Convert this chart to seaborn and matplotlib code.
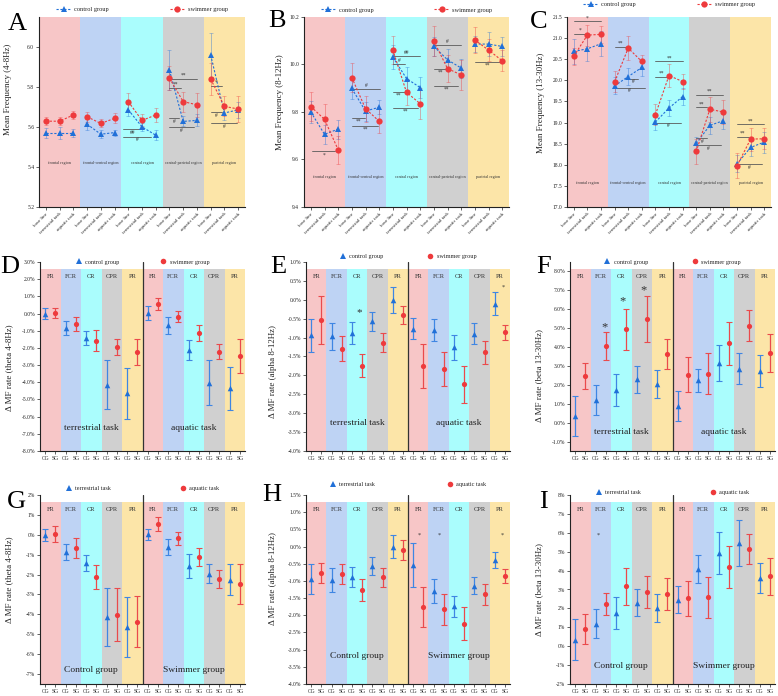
import matplotlib as mpl

mpl.use('Agg')
import matplotlib.pyplot as plt
import matplotlib.ticker as mticker
from matplotlib.lines import Line2D
import seaborn as sns
import numpy as np
import pandas as pd

sns.set_style('ticks')
plt.rcParams['font.family'] = ['Liberation Serif', 'DejaVu Serif']
plt.rcParams['axes.unicode_minus'] = False

BLUE = '#2170D8'
RED = '#EE3A3C'
BAND_COLORS = ['#F7C6C7', '#BED3F4', '#AAFDFD', '#D0D0D0', '#FCE5A8']

# ---------------- top row: mean frequency ----------------
regions = ['frontal region', 'frontal-central region', 'central region',
           'central-parietal region', 'parietal region']
conditions = ['base line', 'terrestrial task', 'aquatic task']

A_control = [5.572, 5.572, 5.572, 5.614, 5.564, 5.572, 5.686, 5.601, 5.559,
             5.884, 5.628, 5.633, 5.960, 5.670, 5.686]
A_control_err = [0.025, 0.03, 0.02, 0.03, 0.02, 0.015, 0.03, 0.02, 0.025,
                 0.10, 0.025, 0.03, 0.11, 0.035, 0.04]
A_swimmer = [5.629, 5.629, 5.660, 5.651, 5.618, 5.643, 5.727, 5.633, 5.660,
             5.844, 5.727, 5.711, 5.840, 5.703, 5.690]
A_swimmer_err = [0.02, 0.02, 0.02, 0.025, 0.02, 0.025, 0.045, 0.03, 0.035,
                 0.06, 0.05, 0.06, 0.08, 0.05, 0.065]

B_control = [9.800, 9.706, 9.728, 9.899, 9.804, 9.820, 10.031, 9.941, 9.903,
             10.076, 10.020, 9.985, 10.086, 10.086, 10.076]
B_control_err = [0.045, 0.04, 0.04, 0.045, 0.04, 0.03, 0.05, 0.05, 0.045,
                 0.04, 0.045, 0.04, 0.035, 0.05, 0.04]
B_swimmer = [9.823, 9.769, 9.641, 9.945, 9.814, 9.761, 10.061, 9.883, 9.835,
             10.099, 9.983, 9.956, 10.103, 10.061, 10.016]
B_swimmer_err = [0.06, 0.065, 0.06, 0.06, 0.055, 0.05, 0.06, 0.055, 0.065,
                 0.065, 0.055, 0.065, 0.055, 0.045, 0.045]

C_control = [20.684, 20.748, 20.866, 19.868, 20.090, 20.304, 19.012, 19.345, 19.615,
             18.505, 18.933, 19.044, 18.022, 18.410, 18.537]
C_control_err = [0.3, 0.3, 0.3, 0.2, 0.2, 0.2, 0.2, 0.2, 0.2,
                 0.15, 0.2, 0.2, 0.2, 0.2, 0.25]
C_swimmer = [20.573, 21.072, 21.088, 19.963, 20.763, 20.447, 19.187, 20.114, 19.971,
             18.315, 19.314, 19.250, 17.975, 18.608, 18.616]
C_swimmer_err = [0.2, 0.25, 0.2, 0.25, 0.28, 0.15, 0.25, 0.27, 0.18,
                 0.3, 0.3, 0.28, 0.3, 0.27, 0.25]

# significance bars: (x start, x end, y, label, +1 text above / -1 below)
A_sigs = [(5.65, 6.93, 5.590, '##', -1), (5.65, 7.66, 5.552, '#', -1),
          (8.99, 9.83, 5.797, '**', 1), (8.99, 11.04, 5.842, '**', 1),
          (8.99, 9.71, 5.646, '#', -1), (8.99, 10.80, 5.600, '#', -1),
          (12.0, 12.85, 5.807, '*', 1), (12.0, 12.85, 5.675, '#', -1),
          (12.0, 13.94, 5.621, '#', -1)]
B_sigs = [(0.12, 1.76, 9.634, '*', -1), (3.0, 5.05, 9.897, '#', 1),
          (3.0, 3.98, 9.775, '**', -1), (3.0, 4.95, 9.741, '**', -1),
          (6.0, 8.0, 10.037, '##', 1), (6.0, 6.9, 10.001, '#', 1),
          (6.0, 6.9, 9.883, '**', -1), (6.0, 7.85, 9.817, '**', -1),
          (9.0, 11.0, 10.083, '#', 1), (9.0, 10.0, 9.982, '**', -1),
          (9.0, 10.8, 9.910, '**', -1), (12.0, 13.9, 10.011, '**', -1)]
C_sigs = [(0.0, 2.03, 21.405, '*', 1), (0.0, 1.0, 21.104, '*', 1),
          (3.0, 3.9, 20.80, '**', 1), (4.0, 4.75, 20.04, '#', -1),
          (3.0, 5.2, 19.83, '#', -1), (6.0, 8.0, 20.454, '**', 1),
          (6.0, 6.9, 20.09, '**', 1), (6.0, 7.9, 19.0, '#', -1),
          (9.0, 11.0, 19.654, '**', 1), (9.0, 9.83, 19.36, '**', 1),
          (9.0, 9.83, 18.624, '#', -1), (9.0, 10.8, 18.458, '#', -1),
          (12.0, 14.0, 18.965, '**', 1), (12.0, 12.86, 18.664, '**', 1),
          (12.0, 13.83, 18.022, '#', -1)]

# ---------------- lower rows: change rate (%) ----------------
bands = ['FR', 'FCR', 'CR', 'CPR', 'PR']

theta_ctrl_terr = [0.00, -0.86, -1.44, -4.13, -4.64]
theta_ctrl_terr_err = [0.30, 0.41, 0.40, 1.45, 1.49]
theta_ctrl_aqua = [0.05, -0.68, -2.13, -4.02, -4.36]
theta_ctrl_aqua_err = [0.40, 0.50, 0.60, 1.33, 1.27]
theta_swim_terr = [0.02, -0.60, -1.57, -1.95, -2.25]
theta_swim_terr_err = [0.29, 0.41, 0.59, 0.46, 0.77]
theta_swim_aqua = [0.55, -0.18, -1.12, -2.22, -2.46]
theta_swim_aqua_err = [0.35, 0.31, 0.47, 0.45, 1.00]

alpha_ctrl_terr = [-0.94, -0.97, -0.88, -0.57, 0.00]
alpha_ctrl_terr_err = [0.44, 0.35, 0.29, 0.26, 0.34]
alpha_ctrl_aqua = [-0.77, -0.80, -1.26, -0.90, -0.10]
alpha_ctrl_aqua_err = [0.28, 0.28, 0.33, 0.28, 0.30]
alpha_swim_terr = [-0.53, -1.29, -1.74, -1.14, -0.40]
alpha_swim_terr_err = [0.64, 0.34, 0.31, 0.25, 0.23]
alpha_swim_aqua = [-1.75, -1.83, -2.24, -1.39, -0.86]
alpha_swim_aqua_err = [0.58, 0.44, 0.49, 0.31, 0.20]

beta_ctrl_terr = [0.35, 1.19, 1.74, 2.30, 2.03]
beta_ctrl_terr_err = [1.07, 0.78, 0.84, 0.72, 0.73]
beta_ctrl_aqua = [0.89, 2.24, 3.16, 2.86, 2.75]
beta_ctrl_aqua_err = [0.80, 0.60, 0.97, 0.83, 0.84]
beta_swim_terr = [2.47, 4.08, 4.93, 5.48, 3.62]
beta_swim_terr_err = [0.71, 0.74, 1.10, 1.22, 0.79]
beta_swim_aqua = [2.53, 2.58, 4.19, 5.14, 3.69]
beta_swim_aqua_err = [0.92, 1.09, 1.13, 0.81, 1.00]

fig = plt.figure(figsize=(7.78, 6.96), dpi=100)
W, H = 778, 696


def px_axes(l, t, r, b):
    return fig.add_axes([l / W, 1 - b / H, (r - l) / W, (b - t) / H])


def style_axes(ax):
    sns.despine(ax=ax)
    for s in ['left', 'bottom']:
        ax.spines[s].set_linewidth(0.8)
        ax.spines[s].set_color('#222222')
    ax.tick_params(labelsize=4, length=2, width=0.5, pad=1.5, colors='#222222')


def top_panel(ax, ctrl, ctrl_err, swim, swim_err, ylim, ystep, ylabel, ylab_pos,
              region_y, sigs, legend_y):
    for i, c in enumerate(BAND_COLORS):
        ax.axvspan(3 * i - 0.5, 3 * i + 2.5, color=c, lw=0, zorder=0)
    x = np.arange(15)
    df = pd.DataFrame({
        'x': np.concatenate([x, x]),
        'y': ctrl + swim,
        'group': ['control group'] * 15 + ['swimmer group'] * 15,
        'region': list(np.repeat(regions, 3)) * 2,
    })
    ax.errorbar(x, ctrl, yerr=ctrl_err, fmt='none', ecolor=BLUE, alpha=0.4,
                elinewidth=0.7, capsize=1.5, capthick=0.6, zorder=2)
    ax.errorbar(x, swim, yerr=swim_err, fmt='none', ecolor=RED, alpha=0.4,
                elinewidth=0.7, capsize=1.5, capthick=0.6, zorder=2)
    sns.lineplot(data=df, x='x', y='y', hue='group', units='region', estimator=None,
                 style='group', palette={'control group': BLUE, 'swimmer group': RED},
                 markers={'control group': '^', 'swimmer group': 'o'},
                 dashes={'control group': (2, 1.5), 'swimmer group': (2, 1.5)},
                 lw=0.8, markersize=4.5, markeredgewidth=0, legend=False, ax=ax, zorder=3)
    for x0, x1, y, lab, side in sigs:
        ax.plot([x0, x1], [y, y], color='#5a5a5a', lw=0.6, zorder=2.5)
        ax.annotate(lab, ((x0 + x1) / 2, y), xytext=(0, 0.6 * side), textcoords='offset points',
                    ha='center', va='bottom' if side > 0 else 'top', fontsize=4, color='#333333')
    for i, name in enumerate(regions):
        ax.text(3 * i + 1, region_y, name, transform=ax.get_xaxis_transform(),
                ha='center', va='center', fontsize=3, color='#333333')
    ax.set_xlim(-0.5, 14.5)
    ax.set_ylim(*ylim)
    ax.yaxis.set_major_locator(mticker.MultipleLocator(ystep))
    ax.yaxis.set_major_formatter(mticker.FormatStrFormatter('%.1f'))
    ax.set_xticks(x)
    ax.set_xticklabels(conditions * 5, rotation=45, ha='right', rotation_mode='anchor')
    style_axes(ax)
    ax.tick_params(axis='x', labelsize=3.6)
    ax.set_xlabel('')
    ax.set_ylabel(ylabel, fontsize=6.5)
    ax.yaxis.set_label_coords(*ylab_pos)
    handles = [Line2D([], [], color=BLUE, ls=(0, (2, 1.5)), lw=0.8, marker='^', ms=4.5, mew=0),
               Line2D([], [], color=RED, ls=(0, (2, 1.5)), lw=0.8, marker='o', ms=4.5, mew=0)]
    ax.legend(handles, ['control group', 'swimmer group'], loc='center', ncol=2,
              bbox_to_anchor=(0.5, legend_y), frameon=False, fontsize=4.6,
              columnspacing=9.5, handlelength=2.3, handletextpad=0.5, borderaxespad=0)


def diff_panel(ax, blue, blue_err, red, red_err, ylim, ystep, yfmt, ylabel, ylab_pos,
               half_labels, half_y, legend_labels, legend_y, colspace, stars):
    for k in range(10):
        ax.axvspan(2 * k - 0.5, 2 * k + 1.5, ymin=0, ymax=0.965,
                   color=BAND_COLORS[k % 5], lw=0, zorder=0)
        ax.text(2 * k + 0.5, 0.925, bands[k % 5], transform=ax.get_xaxis_transform(),
                ha='center', va='center', fontsize=4.6, color='#333333')
    ax.axvline(9.5, color='#333333', lw=0.9, zorder=1)
    xb = np.arange(0, 20, 2)
    xr = np.arange(1, 20, 2)
    ax.errorbar(xb, blue, yerr=blue_err, fmt='none', ecolor='#3F86E3',
                elinewidth=0.9, capsize=2, capthick=0.8, zorder=2)
    ax.errorbar(xr, red, yerr=red_err, fmt='none', ecolor='#EA4A4C',
                elinewidth=0.9, capsize=2, capthick=0.8, zorder=2)
    sns.scatterplot(x=xb, y=blue, marker='^', color=BLUE, s=16, linewidth=0, ax=ax, zorder=3)
    sns.scatterplot(x=xr, y=red, marker='o', color=RED, s=14, linewidth=0, ax=ax, zorder=3)
    for j, lab in enumerate(half_labels):
        ax.text(4.5 + 10 * j, half_y, lab, transform=ax.get_xaxis_transform(),
                ha='center', va='center', fontsize=6.8, color='#222222')
    for sx, sy, size in stars:
        ax.text(sx, sy, '*', ha='center', va='center', fontsize=size, color='#333333')
    ax.set_xlim(-0.5, 19.5)
    ax.set_ylim(*ylim)
    ax.yaxis.set_major_locator(mticker.MultipleLocator(ystep))
    ax.yaxis.set_major_formatter(mticker.FormatStrFormatter(yfmt))
    ax.set_xticks(np.arange(20))
    ax.set_xticklabels(['CG', 'SG'] * 10)
    style_axes(ax)
    ax.set_ylabel(ylabel, fontsize=6.5)
    ax.yaxis.set_label_coords(*ylab_pos)
    handles = [Line2D([], [], ls='none', marker='^', color=BLUE, ms=4, mew=0),
               Line2D([], [], ls='none', marker='o', color=RED, ms=4, mew=0)]
    ax.legend(handles, legend_labels, loc='center', ncol=2, bbox_to_anchor=(0.5, legend_y),
              frameon=False, fontsize=4.5, columnspacing=colspace, handlelength=1.0,
              handletextpad=0.5, borderaxespad=0)


# top row
axA = px_axes(39, 17, 245, 207)
top_panel(axA, A_control, A_control_err, A_swimmer, A_swimmer_err, (5.2, 6.15), 0.2,
          'Mean Frequency (4-8Hz)', (-0.13, 0.62), 0.23, A_sigs, 1.042)
axB = px_axes(304, 17, 509, 207)
top_panel(axB, B_control, B_control_err, B_swimmer, B_swimmer_err, (9.4, 10.2), 0.2,
          'Mean Frequency (8-12Hz)', (-0.10, 0.55), 0.16, B_sigs, 1.037)
axC = px_axes(567, 17, 771, 207)
top_panel(axC, C_control, C_control_err, C_swimmer, C_swimmer_err, (17.0, 21.5), 0.5,
          'Mean Frequency (13-30Hz)', (-0.11, 0.55), 0.126, C_sigs, 1.068)

# middle row: group comparison within each task
grp_labels = ['control group', 'swimmer group']
task_labels = ['terrestrial task', 'aquatic task']
axD = px_axes(40, 262, 245, 451)
diff_panel(axD, theta_ctrl_terr + theta_ctrl_aqua, theta_ctrl_terr_err + theta_ctrl_aqua_err,
           theta_swim_terr + theta_swim_aqua, theta_swim_terr_err + theta_swim_aqua_err,
           (-8, 3), 1.0, '%.1f%%', 'Δ MF rate (theta 4-8Hz)', (-0.13, 0.44),
           task_labels, 0.124, grp_labels, 1.0, 6.5, [])
axE = px_axes(306, 262, 510, 451)
diff_panel(axE, alpha_ctrl_terr + alpha_ctrl_aqua, alpha_ctrl_terr_err + alpha_ctrl_aqua_err,
           alpha_swim_terr + alpha_swim_aqua, alpha_swim_terr_err + alpha_swim_aqua_err,
           (-4, 1), 0.5, '%.1f%%', 'Δ MF rate (alpha 8-12Hz)', (-0.14, 0.42),
           task_labels, 0.15, grp_labels, 1.03, 7.0, [(4.75, -0.33, 8), (18.85, 0.33, 4.5)])
axF = px_axes(570, 262, 775, 451)
diff_panel(axF, beta_ctrl_terr + beta_ctrl_aqua, beta_ctrl_terr_err + beta_ctrl_aqua_err,
           beta_swim_terr + beta_swim_aqua, beta_swim_terr_err + beta_swim_aqua_err,
           (-1.5, 8.5), 1.0, '%.1f%%', 'Δ MF rate (beta 13-30Hz)', (-0.13, 0.40),
           task_labels, 0.10, grp_labels, 1.0, 7.0,
           [(2.82, 5.05, 9), (4.67, 6.43, 9), (6.65, 7.01, 9)])

# bottom row: task comparison within each group
g_labels = ['Control group', 'Swimmer group']
axG = px_axes(40, 495, 245, 684)
diff_panel(axG, theta_ctrl_terr + theta_swim_terr, theta_ctrl_terr_err + theta_swim_terr_err,
           theta_ctrl_aqua + theta_swim_aqua, theta_ctrl_aqua_err + theta_swim_aqua_err,
           (-7.5, 2), 1.0, '%d%%', 'Δ MF rate (theta 4-8Hz)', (-0.13, 0.55),
           g_labels, 0.073, task_labels, 1.035, 11.0, [])
axH = px_axes(306, 495, 510, 684)
diff_panel(axH, alpha_ctrl_terr + alpha_swim_terr, alpha_ctrl_terr_err + alpha_swim_terr_err,
           alpha_ctrl_aqua + alpha_swim_aqua, alpha_ctrl_aqua_err + alpha_swim_aqua_err,
           (-4, 1.5), 0.5, '%.1f%%', 'Δ MF rate (alpha 8-12Hz)', (-0.14, 0.56),
           g_labels, 0.15, task_labels, 1.055, 11.5,
           [(10.6, 0.33, 4.5), (12.6, 0.33, 4.5), (18.7, 0.33, 4.5)])
axI = px_axes(570, 495, 775, 684)
diff_panel(axI, beta_ctrl_terr + beta_swim_terr, beta_ctrl_terr_err + beta_swim_terr_err,
           beta_ctrl_aqua + beta_swim_aqua, beta_ctrl_aqua_err + beta_swim_aqua_err,
           (-2, 8), 1.0, '%d%%', 'Δ MF rate (beta 13-30Hz)', (-0.13, 0.50),
           g_labels, 0.095, task_labels, 1.015, 11.0, [(2.26, 5.85, 4.5)])

# panel letters
letters = ['A', 'B', 'C', 'D', 'E', 'F', 'G', 'H', 'I']
letter_px = [(17, 24), (277, 21), (539, 22), (10, 267), (278, 267), (544, 267),
             (16, 502), (272, 495), (543, 502)]
for lab, (lx, ly) in zip(letters, letter_px):
    fig.text(lx / W, 1 - ly / H, lab, ha='center', va='center', fontsize=19, color='black')

fig.savefig('out.png', dpi=100)
